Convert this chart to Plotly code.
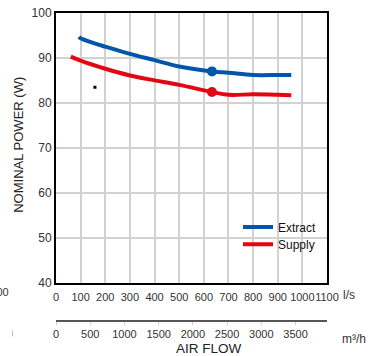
import plotly.graph_objects as go

# Data
extract_ls = [93, 100, 200, 300, 400, 500, 633, 700, 800, 900, 955]
extract_w = [94.7, 94.4, 92.5, 90.9, 89.5, 88.1, 87.0, 86.7, 86.2, 86.2, 86.2]
supply_ls = [60, 100, 200, 300, 400, 500, 633, 700, 800, 900, 955]
supply_w = [90.3, 89.4, 87.6, 86.1, 85.0, 84.0, 82.4, 81.8, 81.9, 81.8, 81.7]
extract_mark = ([633], [87.0])
supply_mark = ([633], [82.4])
stray_mark = ([158], [83.5])

ls_ticks = list(range(0, 1101, 100))
m3h_ticks = list(range(0, 3501, 500))

BLUE = "#0057a8"
RED = "#e30613"
FONT = "Liberation Sans, Arial, sans-serif"

W, H = 380, 356
ML, MR, MT, MB = 56, 53, 13, 34.5
PW = W - ML - MR
PH = H - MT - MB

def px_x(x):
    return (x - ML) / PW

def px_y(y):
    return (H - MB - y) / PH

fig = go.Figure()
fig.add_trace(go.Scatter(x=extract_ls, y=extract_w, mode="lines", name="Extract", legend="legend",
                         line=dict(color=BLUE, width=4, shape="spline")))
fig.add_trace(go.Scatter(x=supply_ls, y=supply_w, mode="lines", name="Supply", legend="legend2",
                         line=dict(color=RED, width=4, shape="spline")))
fig.add_trace(go.Scatter(x=extract_mark[0], y=extract_mark[1], mode="markers", showlegend=False,
                         marker=dict(color=BLUE, size=10)))
fig.add_trace(go.Scatter(x=supply_mark[0], y=supply_mark[1], mode="markers", showlegend=False,
                         marker=dict(color=RED, size=10)))
fig.add_trace(go.Scatter(x=stray_mark[0], y=stray_mark[1], mode="markers", showlegend=False,
                         marker=dict(color="black", size=3, symbol="square")))
# secondary axis carrier
fig.add_trace(go.Scatter(x=[None], y=[None], xaxis="x2", showlegend=False))

ybottom = px_y(283)

leg_common = dict(xanchor="left", yanchor="top", bgcolor="rgba(0,0,0,0)",
                  font=dict(size=12, color="#111"), itemwidth=30)

fig.update_layout(
    width=W, height=H,
    margin=dict(l=ML, r=MR, t=MT, b=MB, autoexpand=False),
    paper_bgcolor="white", plot_bgcolor="white",
    font=dict(family=FONT, size=11, color="#333"),
    xaxis=dict(range=[0, 1100], tickvals=ls_ticks, showgrid=True, gridcolor="#d2d2d2", gridwidth=1.5,
               showline=True, linecolor="black", linewidth=2, mirror=True, ticks="",
               tickangle=0, automargin=False, ticklabelstandoff=3,
               tickfont=dict(size=11, color="#333"), zeroline=False, anchor="y"),
    yaxis=dict(range=[40, 100], dtick=10, domain=[ybottom, 1], showgrid=True, gridcolor="#d2d2d2",
               gridwidth=1.5, showline=True, linecolor="black", linewidth=2, mirror=True, ticks="",
               automargin=False,
               tickfont=dict(size=12, color="#333"), zeroline=False),
    xaxis2=dict(range=[0, 3960], tickvals=m3h_ticks, overlaying="x", anchor="free", position=0,
                side="bottom", showgrid=False, showline=True, linecolor="#555", linewidth=1.5,
                ticks="outside", ticklen=3, tickcolor="#ccc", tickangle=0, automargin=False,
                tickfont=dict(size=11, color="#333"), zeroline=False),
    legend=dict(x=px_x(238), y=px_y(212.7), **leg_common),
    legend2=dict(x=px_x(238), y=px_y(230), **leg_common),
    showlegend=True,
)

annotations = [
    dict(text="NOMINAL POWER (W)", textangle=-90, x=px_x(19), y=px_y(145), xref="paper", yref="paper",
         xanchor="center", yanchor="middle", showarrow=False, font=dict(size=13, color="#222")),
    dict(text="AIR FLOW", x=px_x(209), y=px_y(349), xref="paper", yref="paper",
         xanchor="center", yanchor="middle", showarrow=False, font=dict(size=13.5, color="#222")),
    dict(text="l/s", x=px_x(341), y=px_y(295), xref="paper", yref="paper", xanchor="left",
         yanchor="middle", showarrow=False, font=dict(size=12, color="#333")),
    dict(text="m³/h", x=px_x(340), y=px_y(340), xref="paper", yref="paper", xanchor="left",
         yanchor="middle", showarrow=False, font=dict(size=12, color="#333")),
    dict(text="1100", x=px_x(11), y=px_y(292), xref="paper", yref="paper", xanchor="right",
         yanchor="middle", showarrow=False, font=dict(size=11, color="#333")),
]
fig.update_layout(annotations=annotations)
fig.add_shape(type="line", xref="paper", yref="paper", x0=px_x(12.5), x1=px_x(12.5),
              y0=px_y(331), y1=px_y(337), line=dict(color="#bbb", width=1))

fig.write_html("out.html", config={"displayModeBar": False},
               post_script="document.body.style.margin='0px';")
